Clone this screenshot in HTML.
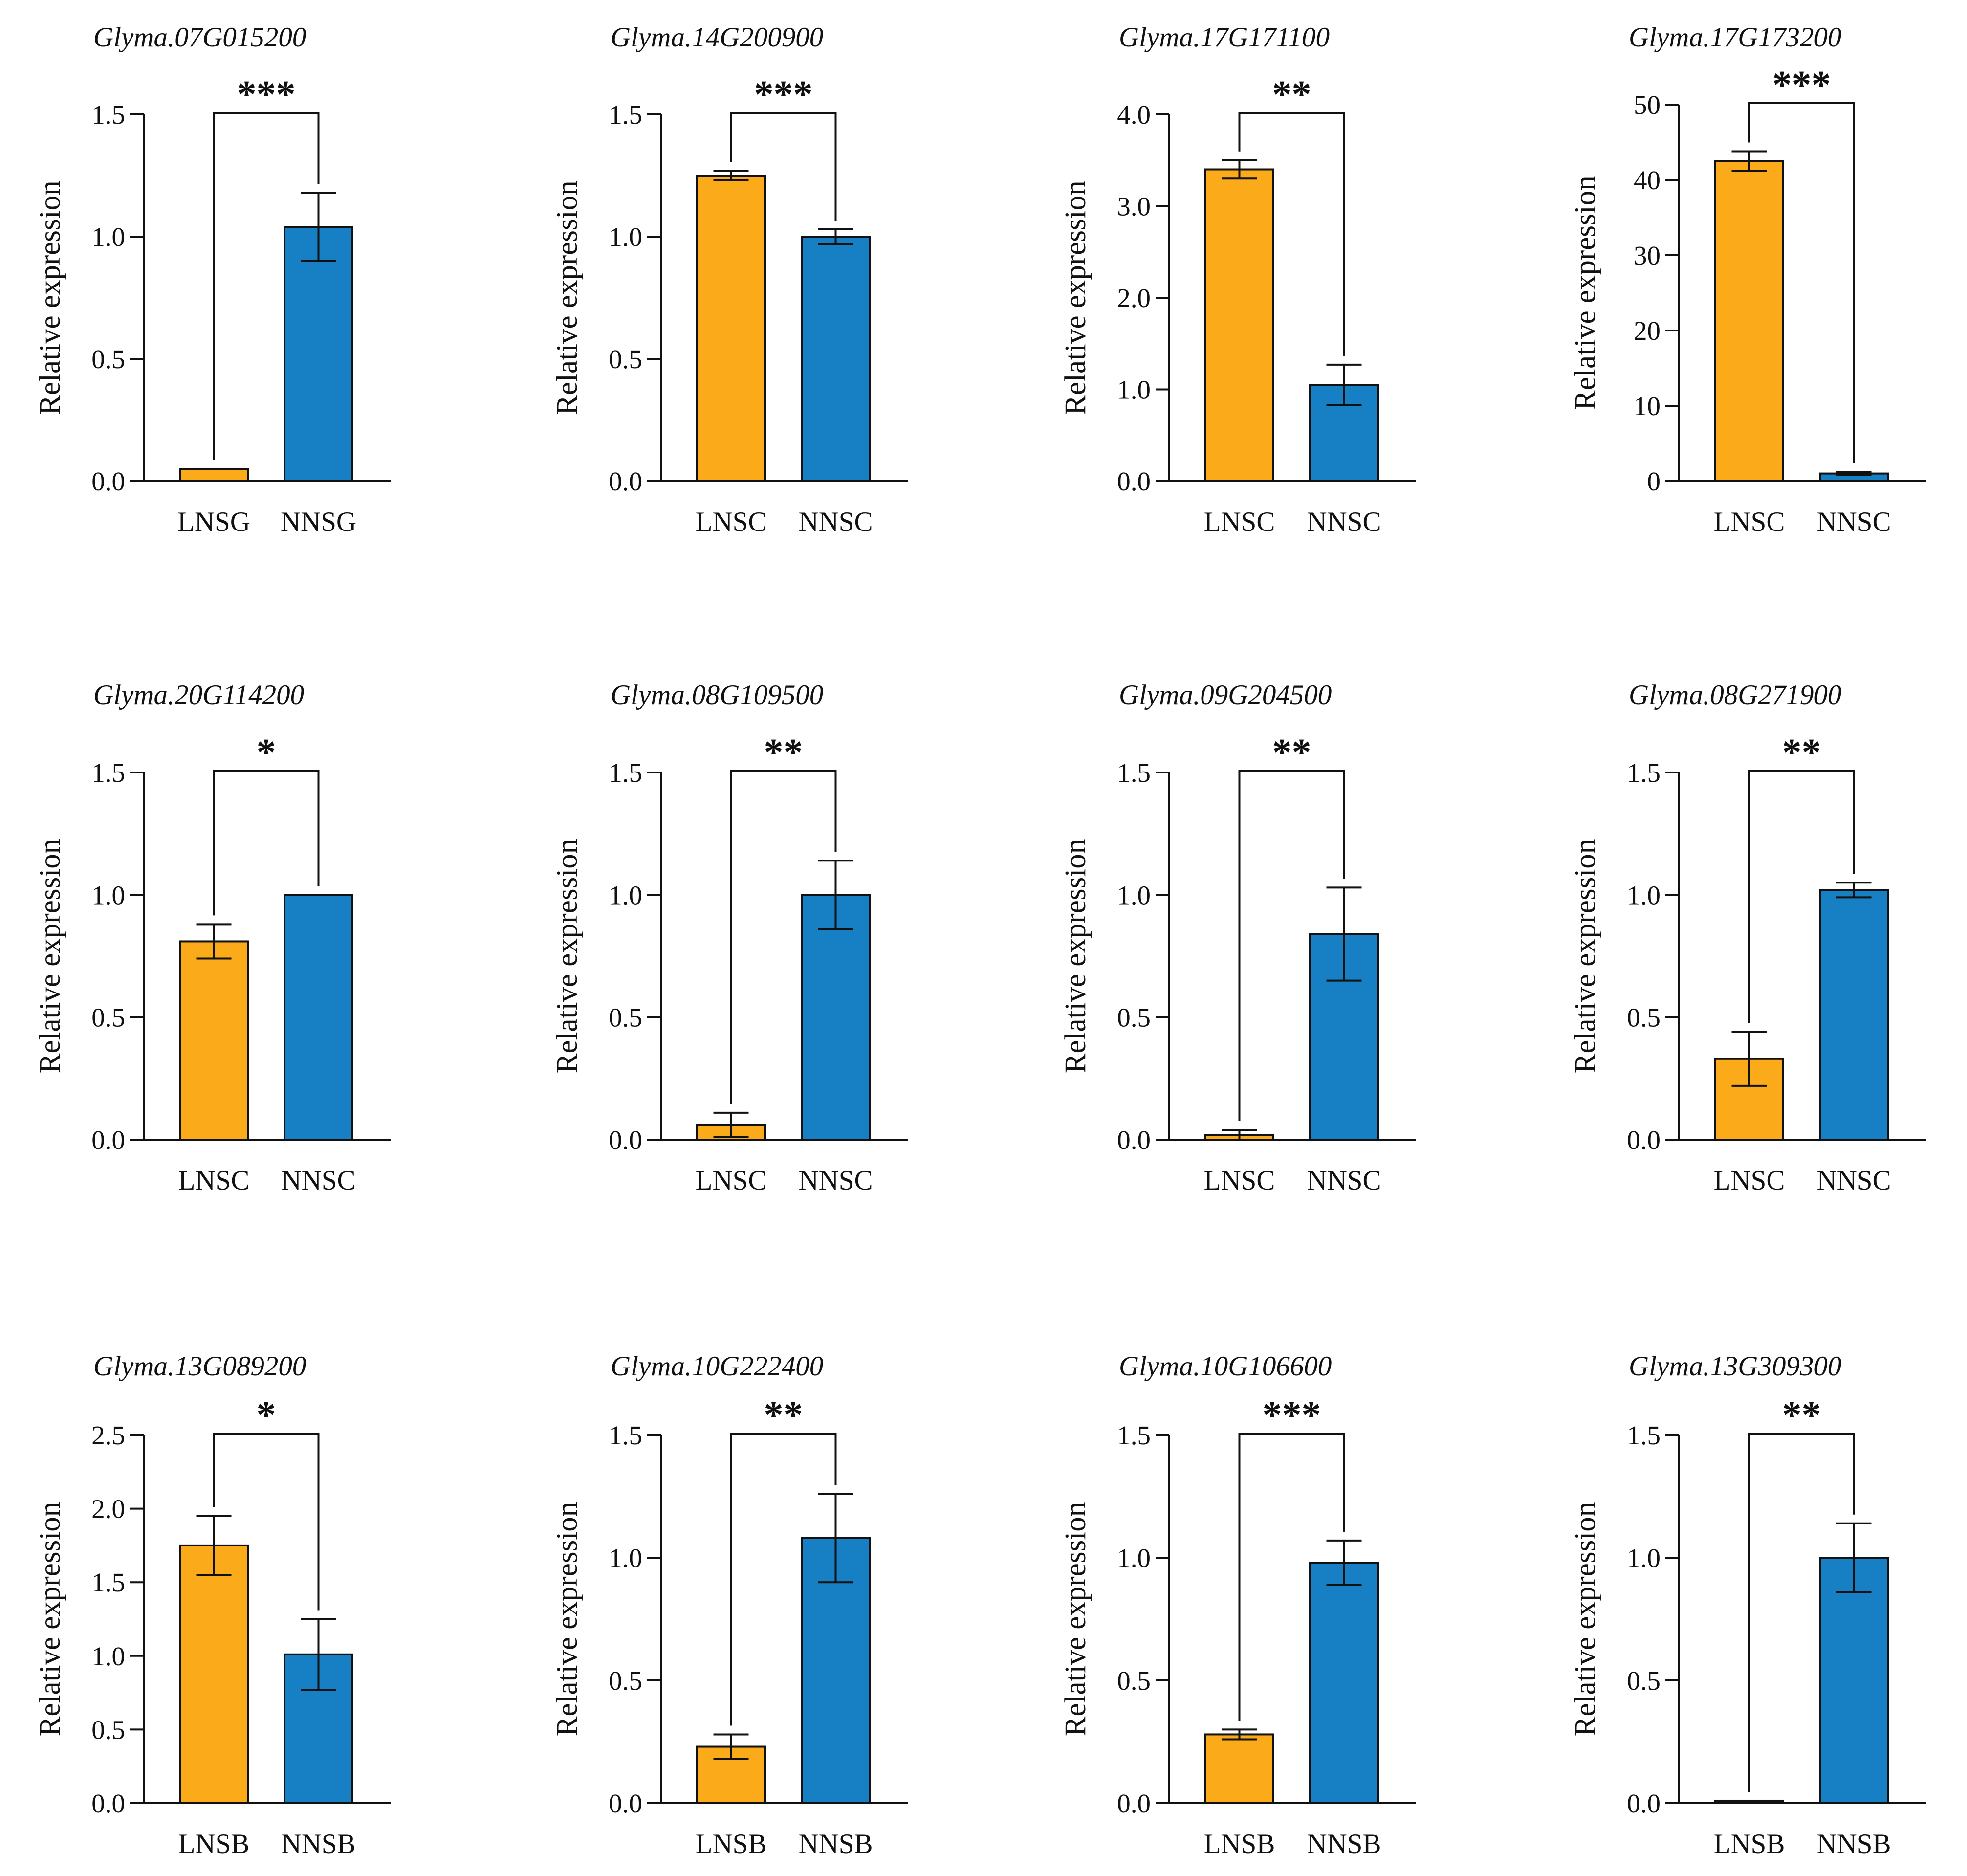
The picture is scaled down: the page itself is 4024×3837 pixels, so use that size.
<!DOCTYPE html>
<html><head><meta charset="utf-8"><style>
html,body{margin:0;padding:0;background:#fff;}
svg{display:block;}
text{font-family:"Liberation Serif","DejaVu Serif",serif;fill:#111;}
</style></head><body>
<svg id="chart" width="4024" height="3837" viewBox="0 0 4024 3837" xmlns="http://www.w3.org/2000/svg"></svg>
<script>
const genes = ["Glyma.07G015200","Glyma.14G200900","Glyma.17G171100","Glyma.17G173200",
"Glyma.20G114200","Glyma.08G109500","Glyma.09G204500","Glyma.08G271900",
"Glyma.13G089200","Glyma.10G222400","Glyma.10G106600","Glyma.13G309300"];
const groupA = ["LNSG","LNSC","LNSC","LNSC","LNSC","LNSC","LNSC","LNSC","LNSB","LNSB","LNSB","LNSB"];
const groupB = ["NNSG","NNSC","NNSC","NNSC","NNSC","NNSC","NNSC","NNSC","NNSB","NNSB","NNSB","NNSB"];
const meanA = [0.05,1.25,3.4,42.5,0.81,0.06,0.02,0.33,1.75,0.23,0.28,0.01];
const errA  = [0.0,0.02,0.1,1.3,0.07,0.05,0.02,0.11,0.2,0.05,0.02,0.0];
const meanB = [1.04,1.00,1.05,1.0,1.00,1.00,0.84,1.02,1.01,1.08,0.98,1.00];
const errB  = [0.14,0.03,0.22,0.2,0.0,0.14,0.19,0.03,0.24,0.18,0.09,0.14];
const yMax  = [1.5,1.5,4.0,50,1.5,1.5,1.5,1.5,2.5,1.5,1.5,1.5];
const yStep = [0.5,0.5,1.0,10,0.5,0.5,0.5,0.5,0.5,0.5,0.5,0.5];
const tickDecimals = [1,1,1,0,1,1,1,1,1,1,1,1];
const stars = ["***","***","**","***","*","**","**","**","*","**","***","**"];

const colX = [294,1352,2392,3435];
const rowTop = [234,1580,2935];
const rowZero = [984,2331,3688];
const titleY = [77,1422,2795];
const NS="http://www.w3.org/2000/svg";
const svg=document.getElementById('chart');
function mk(tag,attrs,parent){const e=document.createElementNS(NS,tag);for(const k in attrs)e.setAttribute(k,attrs[k]);(parent||svg).appendChild(e);return e;}

genes.forEach((g,i)=>{
  const r=Math.floor(i/4), c=i%4;
  const ax=colX[c], zero=rowZero[r];
  const top = (i===3)? rowTop[r]-20 : rowTop[r];
  const y = v => zero - (v/yMax[i])*(zero-top);
  const grp=mk('g',{});
  
  
  const t=mk('text',{x:ax-103,y:titleY[r]+18,'font-size':57,'font-style':'italic'},grp);
  t.textContent=g;
  
  
  const ya=mk('line',{x1:ax,y1:top,x2:ax,y2:zero+2,stroke:'#111','stroke-width':4},grp);
  
  
  const xa=mk('line',{x1:ax-28,y1:zero,x2:ax+505,y2:zero,stroke:'#111','stroke-width':4},grp);
  
  
  for(let v=0; v<=yMax[i]+1e-9; v+=yStep[i]){
    const yy=y(v);
    const tk=mk('line',{x1:ax-28,y1:yy,x2:ax,y2:yy,stroke:'#111','stroke-width':4},grp);
    
    
    const tl=mk('text',{x:ax-38,y:yy+19,'font-size':55,'text-anchor':'end'},grp);
    tl.textContent=v.toFixed(tickDecimals[i]);
    
    
  }
  const yt=mk('text',{x:0,y:0,'font-size':61,'text-anchor':'middle',transform:`translate(${ax-172},${(top+zero)/2}) rotate(-90)`},grp);
  yt.textContent='Relative expression';
  
  
  const bars=[[ax+74,meanA[i],errA[i],'#FBAA1A',groupA[i]],[ax+288,meanB[i],errB[i],'#1780C4',groupB[i]]];
  const legEnds=[];
  bars.forEach((b,k)=>{
    const [bx,m,e,col,lab]=b, w=139, cx=bx+w/2;
    const rect=mk('rect',{x:bx,y:y(m),width:w,height:zero-y(m),fill:col,stroke:'#111','stroke-width':4},grp);
    
    
    if(e>0){
      const el=mk('path',{d:`M${cx},${y(m)} L${cx},${y(m+e)} M${cx-36},${y(m+e)} L${cx+36},${y(m+e)} M${cx},${y(m)} L${cx},${y(m-e)} M${cx-36},${y(m-e)} L${cx+36},${y(m-e)}`,stroke:'#111','stroke-width':4,fill:'none'},grp);
      
      
    }
    legEnds.push([cx,y(m+e)-18]);
    const xl=mk('text',{x:cx,y:zero+102,'font-size':57,'text-anchor':'middle'},grp);
    xl.textContent=lab;
    
    
  });
  const bt=top-3;
  const br=mk('path',{d:`M${legEnds[0][0]},${legEnds[0][1]} L${legEnds[0][0]},${bt} L${legEnds[1][0]},${bt} L${legEnds[1][0]},${legEnds[1][1]}`,stroke:'#111','stroke-width':4,fill:'none'},grp);
  
  
  const st=mk('text',{x:(legEnds[0][0]+legEnds[1][0])/2,y:top-14,'font-size':80,'font-weight':'bold','text-anchor':'middle','font-family':'Liberation Sans, sans-serif'},grp);
  st.textContent=stars[i];
  
  
});
</script>
</body></html>
